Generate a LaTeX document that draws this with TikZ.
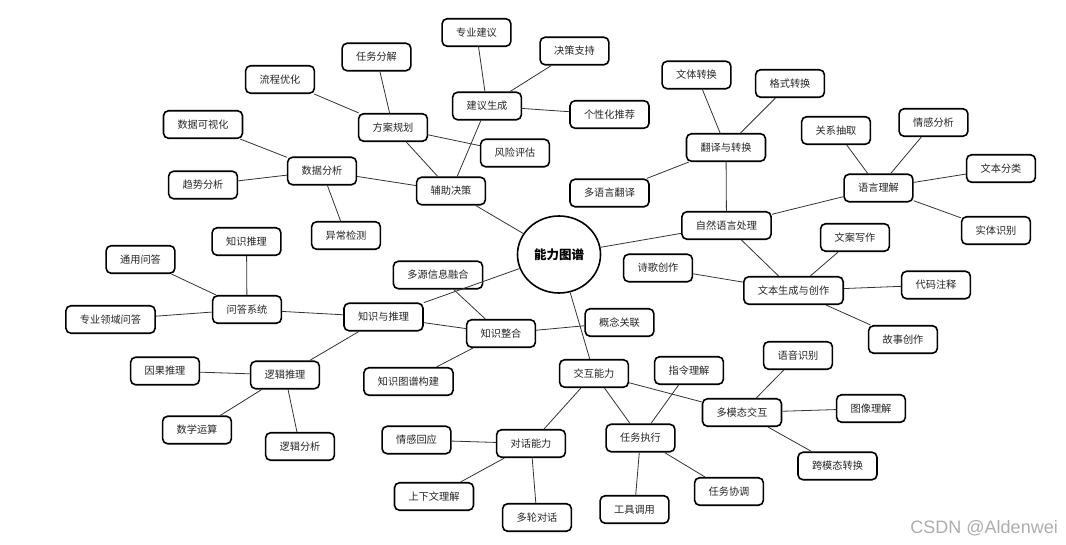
\documentclass[tikz,border=0pt]{standalone}
\usepackage{fontspec}
\newfontfamily\cjk{Noto Sans CJK SC}
\newfontfamily\wmfont{Liberation Sans}
\usetikzlibrary{shapes.geometric}
\tikzset{
  box/.style={draw=black, line width=1.6pt, rounded corners=5pt, fill=white,
    inner xsep=14pt, inner ysep=0pt, minimum height=27.5pt,
    font=\cjk\fontsize{10.2}{12}\selectfont, text=black!85},
  hub/.style={draw=black, line width=1.6pt, ellipse, fill=white,
    minimum width=83pt, minimum height=77pt, inner sep=0pt,
    font=\cjk\bfseries\fontsize{12.5}{14}\selectfont},
  link/.style={draw=black!80, line width=0.8pt}
}
\begin{document}
\begin{tikzpicture}[x=1pt,y=-1pt]
\useasboundingbox (0,0) rectangle (1066,545);
\node[hub] (c) at (559,254.5) {能力图谱};
% 辅助决策 branch
\node[box] (fz) at (451,191) {辅助决策};
\node[box] (sj) at (322,171) {数据分析};
\node[box] (kv) at (203,124.5) {数据可视化};
\node[box] (qs) at (203,185) {趋势分析};
\node[box] (yc) at (346,235.5) {异常检测};
\node[box] (fa) at (393,127.5) {方案规划};
\node[box] (lc) at (280,79.5) {流程优化};
\node[box] (rw) at (376.5,57) {任务分解};
\node[box] (fx) at (515,153) {风险评估};
\node[box] (jy) at (487,106) {建议生成};
\node[box] (zy) at (476.5,32.5) {专业建议};
\node[box] (jc) at (574.5,51) {决策支持};
\node[box] (gx) at (609.5,114.5) {个性化推荐};
% 自然语言处理 branch
\node[box] (nlp) at (726.5,225.5) {自然语言处理};
\node[box] (fy) at (726,147.5) {翻译与转换};
\node[box] (wt) at (696.5,75) {文体转换};
\node[box] (gs) at (790,83.5) {格式转换};
\node[box] (dy) at (609.5,193) {多语言翻译};
\node[box] (yy) at (878.5,188) {语言理解};
\node[box] (gxcq) at (836,130.5) {关系抽取};
\node[box] (qg) at (933.5,122.5) {情感分析};
\node[box] (fl) at (1001,168.5) {文本分类};
\node[box] (st) at (996,230.5) {实体识别};
\node[box] (wb) at (793.5,290.5) {文本生成与创作};
\node[box] (wa) at (855,237.5) {文案写作};
\node[box] (dm) at (936,285) {代码注释};
\node[box] (gsc) at (903,339.5) {故事创作};
\node[box] (sg) at (658,268) {诗歌创作};
% 知识与推理 branch
\node[box] (zs) at (383.5,317) {知识与推理};
\node[box] (wd) at (247,309.5) {问答系统};
\node[box] (zstl) at (246.5,241.5) {知识推理};
\node[box] (ty) at (140.5,259.5) {通用问答};
\node[box] (zyly) at (110.5,319.5) {专业领域问答};
\node[box] (zh) at (501,333.5) {知识整合};
\node[box] (dyx) at (438,275) {多源信息融合};
\node[box] (gn) at (619.5,322.5) {概念关联};
\node[box] (tp) at (408.5,381.5) {知识图谱构建};
\node[box] (lj) at (285,375) {逻辑推理};
\node[box] (yg) at (165,371) {因果推理};
\node[box] (sx) at (197,430) {数学运算};
\node[box] (ljfx) at (300,446.5) {逻辑分析};
% 交互能力 branch
\node[box] (jh) at (594,373.5) {交互能力};
\node[box] (dh) at (531,443.5) {对话能力};
\node[box] (qh) at (416.5,440) {情感回应};
\node[box] (sx2) at (434,496.5) {上下文理解};
\node[box] (dl) at (537,517.5) {多轮对话};
\node[box] (rz) at (640.5,438) {任务执行};
\node[box] (zl) at (689,370.5) {指令理解};
\node[box] (gj) at (634.5,509.5) {工具调用};
\node[box] (xt) at (729,491.5) {任务协调};
\node[box] (dm2) at (742,412.5) {多模态交互};
\node[box] (yysb) at (798,355.5) {语音识别};
\node[box] (tx) at (871,408.5) {图像理解};
\node[box] (km) at (837.5,466) {跨模态转换};
% connectors
\foreach \a/\b in {c/fz, c/nlp, c/zs, c/jh,
  fz/sj, fz/fa, fz/jy,
  sj/kv, sj/qs, sj/yc,
  fa/lc, fa/rw, fa/fx,
  jy/zy, jy/jc, jy/gx,
  nlp/fy, nlp/yy, nlp/wb,
  fy/wt, fy/gs, fy/dy,
  yy/gxcq, yy/qg, yy/fl, yy/st,
  wb/wa, wb/dm, wb/gsc, wb/sg,
  zs/wd, zs/zh, zs/lj,
  wd/zstl, wd/ty, wd/zyly,
  zh/dyx, zh/gn, zh/tp,
  lj/yg, lj/sx, lj/ljfx,
  jh/dh, jh/rz, jh/dm2,
  dh/qh, dh/sx2, dh/dl,
  rz/zl, rz/gj, rz/xt,
  dm2/yysb, dm2/tx, dm2/km}
  \draw[link] (\a) -- (\b);
\node[font=\wmfont\fontsize{18}{20}\selectfont, text=black!32, anchor=east, inner sep=0pt] (wm) at (1058,528) {CSDN @Aldenwei};
\end{tikzpicture}
\end{document}
